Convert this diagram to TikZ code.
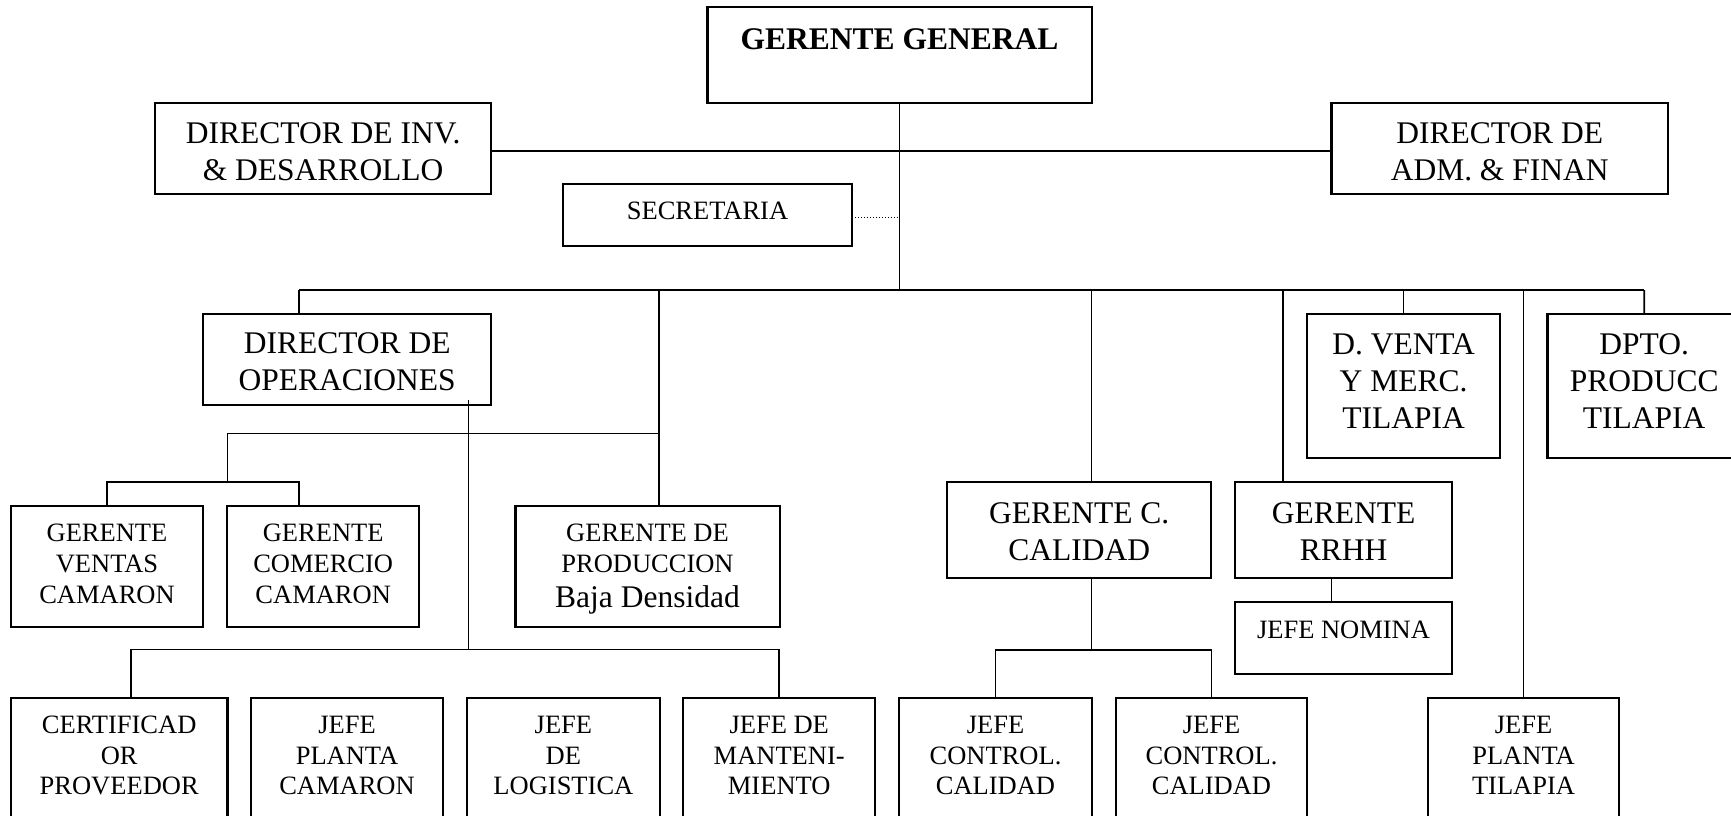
\documentclass[tikz,border=0pt]{standalone}
\usepackage{fontspec}
\setmainfont{Liberation Serif}
\newcommand\lgf{\fontsize{31.5}{37}\selectfont}
\newcommand\smf{\fontsize{26.5}{30.8}\selectfont}
\tikzset{
  box/.style={draw, rectangle, line width=2.1pt, inner sep=0pt, outer sep=0pt},
  lbl/.style={align=center, inner sep=0pt, anchor=base},
  big/.style={lbl, font=\lgf},
  small/.style={lbl, font=\smf},
  conn/.style={line width=1.6pt},
  dots/.style={line width=1.4pt, dash pattern=on 1.4pt off 1.6pt}
}
\newcommand\obox[5]{\node[box, minimum width={(#4-#2)*1pt}, minimum height={(#5-#3)*1pt}] (#1) at ({(#2+#4)/2},{(#3+#5)/2}) {};}
\begin{document}
\begin{tikzpicture}[x=1pt,y=-1pt]
\useasboundingbox (0,0) rectangle (1731,816);
\clip (0,0) rectangle (1731,816);
% boxes
\obox{gg}{707.5}{6.7}{1091.6}{102.7}
\obox{dinv}{155}{102.7}{491.4}{194}
\obox{dadm}{1331.5}{102.7}{1668}{194}
\obox{sec}{563}{183.7}{852}{246}
\obox{dops}{203}{313.7}{491.4}{405}
\obox{dventa}{1307.3}{313.7}{1500}{458}
\obox{dpto}{1547.5}{313.7}{1741}{458}
\obox{gv}{10.9}{506}{203.2}{626.7}
\obox{gc}{227.3}{506}{419}{626.7}
\obox{gp}{515.5}{506}{779.6}{626.7}
\obox{gcc}{947.2}{482}{1211.2}{578}
\obox{grrhh}{1235.4}{482}{1451.7}{578}
\obox{jn}{1235.4}{601.7}{1451.7}{674}
\obox{cert}{11}{698}{227.5}{840}
\obox{jpc}{250.8}{698}{443.2}{840}
\obox{jl}{467.3}{698}{659.6}{840}
\obox{jm}{683.1}{698}{875.4}{840}
\obox{jcc1}{899.4}{698}{1091.6}{840}
\obox{jcc2}{1115.7}{698}{1307.3}{840}
\obox{jpt}{1428}{698}{1619}{840}
% labels (anchored at the baseline of the last line)
\node[big] (t-gg) at (899.5,49.3) {\textbf{GERENTE GENERAL}};
\node[big] (t-dinv) at (323.2,180) {DIRECTOR DE INV.\\\& DESARROLLO};
\node[big] (t-dadm) at (1499.7,180) {DIRECTOR DE\\ADM. \& FINAN};
\node[small] (t-sec) at (707.5,219.3) {SECRETARIA};
\node[big] (t-dops) at (347.2,390.7) {DIRECTOR DE\\OPERACIONES};
\node[big] (t-dventa) at (1403.6,428) {D. VENTA\\Y MERC.\\TILAPIA};
\node[big] (t-dpto) at (1644.2,428) {DPTO.\\PRODUCC\\TILAPIA};
\node[small] (t-gv) at (107,603.3) {GERENTE\\VENTAS\\CAMARON};
\node[small] (t-gc) at (323.2,603.3) {GERENTE\\COMERCIO\\CAMARON};
\node[small] (t-gp) at (647.5,607.3) {GERENTE DE\\PRODUCCION\\[3.8pt]{\lgf Baja Densidad}};
\node[big] (t-gcc) at (1079.2,560) {GERENTE C.\\CALIDAD};
\node[big] (t-grrhh) at (1343.5,560) {GERENTE\\RRHH};
\node[small] (t-jn) at (1343.5,638.3) {JEFE NOMINA};
\node[small] (t-cert) at (119.2,794.8) {CERTIFICAD\\OR\\PROVEEDOR};
\node[small] (t-jpc) at (347,794.8) {JEFE\\PLANTA\\CAMARON};
\node[small] (t-jl) at (563.4,794.8) {JEFE\\DE\\LOGISTICA};
\node[small] (t-jm) at (779.2,794.8) {JEFE DE\\MANTENI-\\MIENTO};
\node[small] (t-jcc1) at (995.5,794.8) {JEFE\\CONTROL.\\CALIDAD};
\node[small] (t-jcc2) at (1211.5,794.8) {JEFE\\CONTROL.\\CALIDAD};
\node[small] (t-jpt) at (1523.5,794.8) {JEFE\\PLANTA\\TILAPIA};
% connectors
\coordinate (tr) at (899,290);
\draw[conn] (gg.south) -- (gg.south|-tr);
\coordinate (h1) at (899,150.7);
\draw[conn] (dinv.east|-h1) -- (dadm.west|-h1);
\coordinate (s1) at (899,217.3);
\draw[dots] (sec.east|-s1) -- (s1);
\coordinate (bL) at (299,290);
\coordinate (bR) at (1644.2,290);
\draw[conn] (bL) -- (bR);
\draw[conn] (bL) -- (bL|-dops.north);
\coordinate (b1) at (659,290);
\draw[conn] (b1) -- (b1|-gp.north);
\coordinate (b2) at (1091.6,290);
\draw[conn] (b2) -- (b2|-gcc.north);
\coordinate (b3) at (1283,290);
\draw[conn] (b3) -- (b3|-grrhh.north);
\draw[conn] (dventa.north|-bR) -- (dventa.north);
\coordinate (b4) at (1523.5,290);
\draw[conn] (b4) -- (jpt.north);
\draw[conn] (bR) -- (dpto.north);
% operations
\coordinate (o1) at (468.4,400);
\coordinate (o2) at (468.4,649.3);
\draw[conn] (o1) -- (o2);
\coordinate (c1) at (227.3,433.3);
\coordinate (c2) at (227.3,481.7);
\draw[conn] (c1) -- (b1|-c1);
\draw[conn] (c1) -- (c2);
\coordinate (c3) at (299,481.7);
\draw[conn] (gv.north) -- (gv.north|-c3) -- (c3) -- (c3|-gc.north);
\coordinate (d1) at (130.9,649.3);
\draw[conn] (d1|-cert.north) -- (d1) -- (jm.north|-d1) -- (jm.north);
% quality
\coordinate (e1) at (1091.6,650);
\draw[conn] (e1|-gcc.south) -- (e1);
\draw[conn] (jcc1.north) -- (jcc1.north|-e1) -- (jcc2.north|-e1) -- (jcc2.north);
% rrhh
\coordinate (f1) at (1331.5,578);
\draw[conn] (f1) -- (f1|-jn.north);
\end{tikzpicture}
\end{document}
